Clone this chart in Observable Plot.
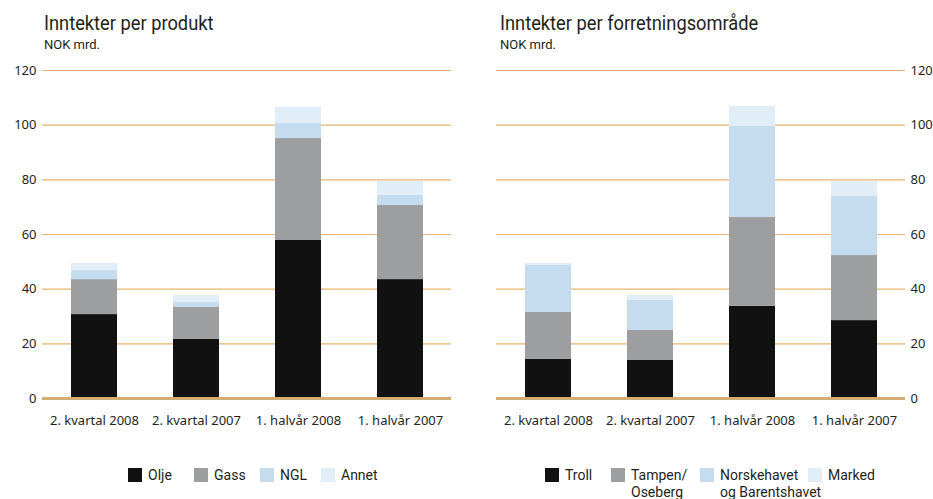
<!DOCTYPE html>
<html>
<head>
<meta charset="utf-8">
<script src="https://cdn.jsdelivr.net/npm/d3@7"></script>
<script src="https://cdn.jsdelivr.net/npm/@observablehq/plot@0.6"></script>
<style>
  html, body { margin: 0; padding: 0; background: #fff; }
  #root { position: relative; width: 933px; height: 499px; font-family: "Noto Sans", sans-serif; color: #231f20; overflow: hidden; }
  .title { position: absolute; font-family: Roboto, sans-serif; font-size: 21px; line-height: normal; white-space: nowrap; transform: scaleX(0.87); transform-origin: left top; }
  .sub { position: absolute; font-family: Roboto, sans-serif; font-size: 13px; line-height: normal; white-space: nowrap; }
  .chart { position: absolute; top: 55px; }
  .leg { position: absolute; top: 467px; font-family: Roboto, sans-serif; font-size: 14px; display: flex; align-items: flex-start; }
  .sw { width: 14px; height: 14px; margin-right: 6px; margin-top: 1px; flex: none; }
  .ln { display: block; height: 16.5px; line-height: 16.5px; white-space: nowrap; }
</style>
</head>
<body>
<div id="root">
  <div class="title" style="left:44px; top:11px;">Inntekter per produkt</div>
  <div class="sub" style="left:44px; top:36.5px;">NOK mrd.</div>
  <div class="title" style="left:500px; top:11px;">Inntekter per forretningsområde</div>
  <div class="sub" style="left:500px; top:36.5px;">NOK mrd.</div>
  <div id="left" class="chart" style="left:0px;"></div>
  <div id="right" class="chart" style="left:466px;"></div>
  <div id="legLeft"></div>
  <div id="legRight"></div>
</div>
<script>
// ---- data ----
const periods = ["2. kvartal 2008", "2. kvartal 2007", "1. halvår 2008", "1. halvår 2007"];
const yTicks = [0, 20, 40, 60, 80, 100, 120];

const productNames = ["Olje", "Gass", "NGL", "Annet"];
const olje  = [30.7, 21.6, 57.8, 43.5];
const gass  = [12.8, 11.7, 37.3, 27.1];
const ngl   = [3.3, 1.8, 5.5, 3.7];
const annet = [2.6, 2.6, 5.9, 5.1];

const areaNames = ["Troll", "Tampen/Oseberg", "Norskehavet og Barentshavet", "Marked"];
const areaLegend = [["Troll"], ["Tampen/", "Oseberg"], ["Norskehavet", "og Barentshavet"], ["Marked"]];
const troll  = [14.3, 13.9, 33.7, 28.5];
const tampen = [17.2, 11.0, 32.5, 23.8];
const norske = [17.2, 11.0, 33.3, 21.6];
const marked = [0.7, 1.8, 7.3, 5.5];

const palette = ["#111111", "#9d9ea0", "#c5dcef", "#e1edf7"];

// ---- build tables ----
function table(names, seriesArrays) {
  const rows = [];
  names.forEach((n, si) => periods.forEach((p, pi) => rows.push({period: p, series: n, value: seriesArrays[si][pi]})));
  return rows;
}
const productData = table(productNames, [olje, gass, ngl, annet]);
const areaData = table(areaNames, [troll, tampen, norske, marked]);

const font = "'Noto Sans', sans-serif";

function chart(data, names, side) {
  const left = side === "left";
  return Plot.plot({
    width: left ? 466 : 467,
    height: 385,
    marginTop: 15,
    marginBottom: 42,
    marginLeft: left ? 42 : 30,
    marginRight: left ? 15 : 28,
    style: {fontFamily: font, fontSize: "13px", color: "#231f20", background: "transparent"},
    x: {domain: periods, paddingInner: 0.55, paddingOuter: 0.275, align: 0.5, label: null},
    y: {domain: [0, 120], label: null},
    color: {domain: names, range: palette},
    marks: [
      Plot.ruleY(yTicks.filter(d => d > 0), {stroke: "#e6b46e", strokeWidth: 1.2}),
      Plot.barY(data, {x: "period", y: "value", fill: "series"}),
      Plot.ruleY([0], {stroke: "#d2ad74", strokeWidth: 3}),
      Plot.axisX({tickSize: 0, tickPadding: 17, fontSize: 13, label: null}),
      Plot.axisY({ticks: yTicks, anchor: left ? "left" : "right", tickSize: 0, tickPadding: left ? 6 : 5, fontSize: 13, label: null})
    ]
  });
}

document.getElementById("left").appendChild(chart(productData, productNames, "left"));
document.getElementById("right").appendChild(chart(areaData, areaNames, "right"));

// ---- legends ----
function legend(id, labels, xs) {
  const host = document.getElementById(id);
  labels.forEach((lab, i) => {
    const lines = Array.isArray(lab) ? lab : [lab];
    const d = document.createElement("div");
    d.className = "leg";
    d.style.left = xs[i] + "px";
    d.innerHTML = `<span class="sw" style="background:${palette[i]}"></span><span>${lines.map(l => `<span class="ln">${l}</span>`).join("")}</span>`;
    host.appendChild(d);
  });
}
legend("legLeft", productNames, [128, 194, 260, 321]);
legend("legRight", areaLegend, [545, 611, 700, 808]);
</script>
</body>
</html>
